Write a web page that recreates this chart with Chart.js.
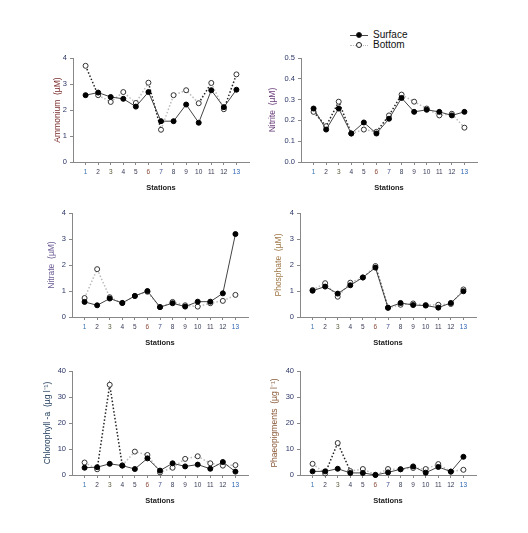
<!DOCTYPE html>
<html>
<head>
<meta charset="utf-8">
<script src="https://cdn.jsdelivr.net/npm/chart.js@4.4.0/dist/chart.umd.min.js"></script>
<style>
  body { margin: 0; background: #fff; font-family: "Liberation Sans", Arial, sans-serif; }
  #page { position: relative; width: 528px; height: 533px; overflow: hidden; }
  .panel { position: absolute; width: 224px; height: 144px; }
  .leg { position: absolute; font-size: 10px; line-height: 12px; color: #111; }
  .legline { position: absolute; width: 18px; height: 0; }
  .legdot { position: absolute; width: 4px; height: 4px; border-radius: 50%; border: 1px solid #222; }
</style>
</head>
<body>
<div id="page">
  <div class="legline" style="left:350px; top:35px; border-top:1px solid #444;"></div>
  <div class="legdot" style="left:356px; top:32px; background:#000;"></div>
  <div class="leg" style="left:373px; top:29px;">Surface</div>
  <div class="legline" style="left:350px; top:45px; border-top:1.5px dotted #bbb;"></div>
  <div class="legdot" style="left:356px; top:42px; background:#fff;"></div>
  <div class="leg" style="left:373px; top:39px;">Bottom</div>

  <div class="panel" style="left:33px; top:50px;"><canvas id="c1"></canvas></div>
  <div class="panel" style="left:261px; top:50px;"><canvas id="c2"></canvas></div>
  <div class="panel" style="left:32px; top:205px;"><canvas id="c3"></canvas></div>
  <div class="panel" style="left:260px; top:205px;"><canvas id="c4"></canvas></div>
  <div class="panel" style="left:32px; top:363px;"><canvas id="c5"></canvas></div>
  <div class="panel" style="left:260px; top:363px;"><canvas id="c6"></canvas></div>
</div>
<script>
// stations 1..13
const stations = [1, 2, 3, 4, 5, 6, 7, 8, 9, 10, 11, 12, 13];

// Ammonium (µM)
const ammoniumSurface = [2.57, 2.67, 2.50, 2.43, 2.13, 2.69, 1.57, 1.57, 2.21, 1.51, 2.76, 2.11, 2.78];
const ammoniumBottom  = [3.70, 2.57, 2.31, 2.69, 2.27, 3.05, 1.24, 2.57, 2.76, 2.26, 3.04, 2.03, 3.37];

// Nitrite (µM)
const nitriteSurface = [0.257, 0.156, 0.257, 0.137, 0.190, 0.137, 0.208, 0.308, 0.241, 0.251, 0.241, 0.224, 0.241];
const nitriteBottom  = [0.241, 0.172, 0.290, 0.137, 0.156, 0.145, 0.224, 0.324, 0.290, 0.257, 0.224, 0.232, 0.165];

// Nitrate (µM)
const nitrateSurface = [0.58, 0.45, 0.71, 0.54, 0.81, 1.00, 0.38, 0.53, 0.40, 0.59, 0.59, 0.91, 3.19];
const nitrateBottom  = [0.73, 1.84, 0.76, 0.54, 0.81, 0.97, 0.38, 0.58, 0.45, 0.40, 0.53, 0.62, 0.85];

// Phosphate (µM)
const phosphateSurface = [1.01, 1.17, 0.90, 1.22, 1.52, 1.90, 0.36, 0.54, 0.46, 0.44, 0.36, 0.54, 0.99];
const phosphateBottom  = [1.04, 1.30, 0.78, 1.32, 1.52, 1.96, 0.35, 0.47, 0.52, 0.46, 0.47, 0.50, 1.06];

// Chlorophyll a (µg l-1)
const chlorophyllSurface = [2.8, 3.0, 4.3, 3.6, 2.3, 6.4, 1.7, 4.5, 3.3, 4.0, 2.4, 5.0, 1.3];
const chlorophyllBottom  = [4.8, 2.2, 34.7, 3.7, 9.0, 7.7, 1.0, 2.8, 6.2, 7.2, 4.5, 3.6, 3.8];

// Phaeopigments (µg l-1)
const phaeoSurface = [1.4, 1.4, 2.4, 0.8, 0.8, 0.0, 1.0, 2.2, 3.3, 0.9, 3.1, 1.3, 7.0];
const phaeoBottom  = [4.3, 0.6, 12.3, 1.5, 2.3, 0.1, 2.3, 2.2, 2.7, 2.3, 4.2, 1.3, 2.0];

const FONT = '"Liberation Sans", Arial, sans-serif';
const stationColors = ['#3a72b0', '#3b3b55', '#5a5a3a', '#333a55', '#3b3b55', '#8a4a3a', '#3a4a8a',
                       '#333a55', '#3b3b55', '#333a55', '#3b3b55', '#333a55', '#2a62b0'];

function makePanel(id, title, titleColor, titleOffset, surface, bottom, yMax, yStep, decimals, darkSegs) {
    const toPoints = vals => stations.map((s, i) => ({ x: s, y: vals[i] }));
    new Chart(document.getElementById(id), {
        type: 'line',
        data: {
            datasets: [
                {
                    label: 'Surface',
                    data: toPoints(surface),
                    borderColor: '#444',
                    borderWidth: 1,
                    pointRadius: 2.5,
                    pointBackgroundColor: '#000',
                    pointBorderColor: '#000',
                    pointBorderWidth: 1,
                    tension: 0
                },
                {
                    label: 'Bottom',
                    data: toPoints(bottom),
                    borderColor: '#bbb',
                    borderWidth: 1.5,
                    borderDash: [1.5, 2],
                    segment: {
                        borderColor: ctx => darkSegs.includes(ctx.p0DataIndex) ? '#222' : '#bbb'
                    },
                    pointRadius: 2.5,
                    pointBackgroundColor: '#fff',
                    pointBorderColor: '#333',
                    pointBorderWidth: 1,
                    tension: 0
                }
            ]
        },
        options: {
            responsive: true,
            maintainAspectRatio: false,
            animation: false,
            clip: false,
            layout: { padding: { top: 8, right: 8, left: 0, bottom: 0 } },
            plugins: { legend: { display: false }, tooltip: { enabled: false } },
            scales: {
                x: {
                    type: 'linear',
                    min: 0,
                    max: 14,
                    afterBuildTicks: scale => { scale.ticks = stations.map(v => ({ value: v })); },
                    afterFit: scale => { scale.height = 32; },
                    border: { color: '#888', width: 1 },
                    grid: { drawOnChartArea: false, tickLength: 3, color: '#888' },
                    ticks: {
                        font: { family: FONT, size: 6.5 },
                        color: ctx => stationColors[ctx.index] || '#333',
                        padding: 3,
                        maxRotation: 0,
                        callback: v => String(v)
                    },
                    title: {
                        display: true,
                        text: 'Stations',
                        color: '#222',
                        font: { family: FONT, size: 7.5, weight: 'bold' },
                        padding: { top: 0, bottom: 2 }
                    }
                },
                y: {
                    min: 0,
                    max: yMax,
                    afterFit: scale => { scale.width = 40; },
                    border: { color: '#888', width: 1 },
                    grid: { drawOnChartArea: false, tickLength: 3, color: '#888' },
                    ticks: {
                        stepSize: yStep,
                        font: { family: FONT, size: 7.5 },
                        color: '#2b3566',
                        padding: 3,
                        callback: v => Number(v).toFixed(decimals)
                    },
                    title: {
                        display: true,
                        text: title,
                        color: titleColor,
                        font: { family: FONT, size: 8.5 },
                        padding: { top: titleOffset - 5.1, bottom: 0 }
                    }
                }
            }
        }
    });
}

makePanel('c1', 'Ammonium  (µM)', '#7b2d2d', 25, ammoniumSurface, ammoniumBottom, 4, 1, 0, [0, 5, 9, 11]);
makePanel('c2', 'Nitrite  (µM)', '#6a3d7a', 12, nitriteSurface, nitriteBottom, 0.5, 0.1, 1, [0, 1, 2, 5, 6]);
makePanel('c3', 'Nitrate  (µM)', '#6b5b95', 20, nitrateSurface, nitrateBottom, 4, 1, 0, []);
makePanel('c4', 'Phosphate  (µM)', '#a07a4a', 19, phosphateSurface, phosphateBottom, 4, 1, 0, [5]);
makePanel('c5', 'Chlorophyll -a  (µg l⁻¹)', '#1d3a5a', 16, chlorophyllSurface, chlorophyllBottom, 40, 10, 0, [1, 2]);
makePanel('c6', 'Phaeopigments  (µg l⁻¹)', '#8a5a3a', 15, phaeoSurface, phaeoBottom, 40, 10, 0, [1, 2]);
</script>
</body>
</html>
